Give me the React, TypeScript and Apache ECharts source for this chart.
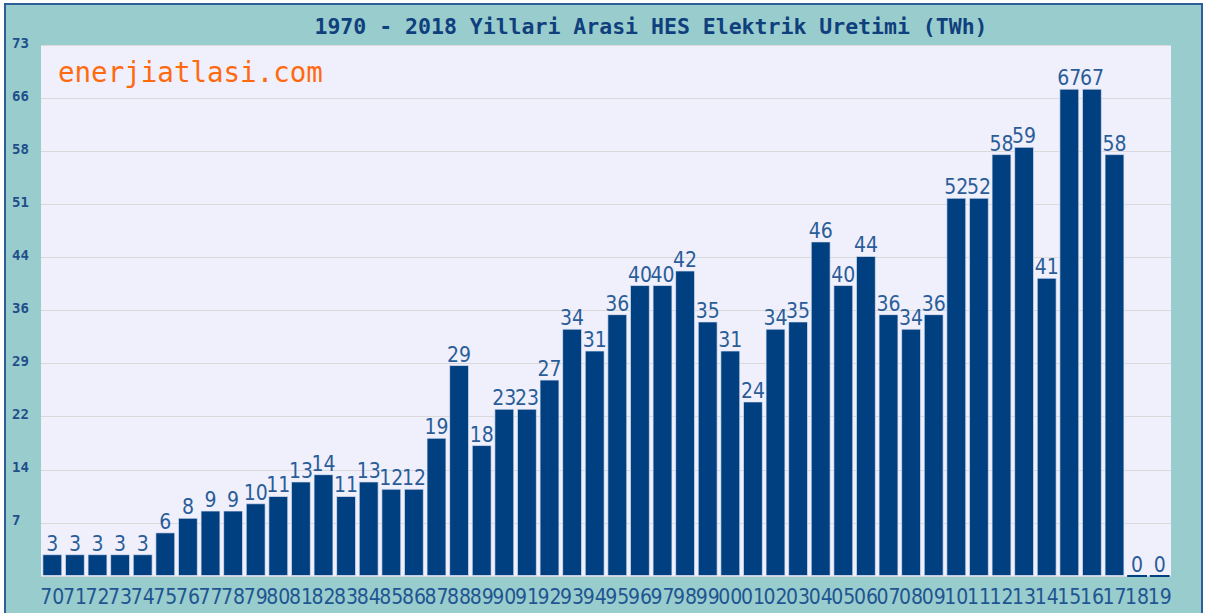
import React, { useEffect, useRef } from "react";
import * as echarts from "echarts";

const titleText = "1970 - 2018 Yillari Arasi HES Elektrik Uretimi (TWh)";
const watermark = "enerjiatlasi.com";
const years = [
  "70","71","72","73","74","75","76","77","78","79",
  "80","81","82","83","84","85","86","87","88","89",
  "90","91","92","93","94","95","96","97","98","99",
  "00","01","02","03","04","05","06","07","08","09",
  "10","11","12","13","14","15","16","17","18","19",
];
const production = [
  3, 3, 3, 3, 3, 6, 8, 9, 9, 10,
  11, 13, 14, 11, 13, 12, 12, 19, 29, 18,
  23, 23, 27, 34, 31, 36, 40, 40, 42, 35,
  31, 24, 34, 35, 46, 40, 44, 36, 34, 36,
  52, 52, 58, 59, 41, 67, 67, 58, 0, 0,
];
const yTickLabels = ["", "7", "14", "22", "29", "36", "44", "51", "58", "66", "73"];
const yMax = 73;
const yStep = 7.3;

const narrow = '"Liberation Sans Narrow", "DejaVu Sans Condensed", "Roboto Condensed", sans-serif';
const mono = '"DejaVu Sans Mono", "Liberation Mono", monospace';

export default function App() {
  const ref = useRef<HTMLDivElement>(null);
  useEffect(() => {
    if (!ref.current) return;
    const chart = echarts.init(ref.current, undefined, { renderer: "svg" });
    chart.setOption({
      animation: false,
      backgroundColor: "transparent",
      title: {
        text: titleText,
        left: 646,
        top: 10,
        textAlign: "center",
        textStyle: { fontFamily: mono, fontWeight: "bold", fontSize: 21.5, color: "#0f3f7c" },
      },
      graphic: [
        {
          type: "text",
          left: 58,
          top: 58,
          z: 100,
          style: { text: watermark, fontFamily: mono, fontSize: 27.5, fill: "#ff6a10" },
        },
      ],
      grid: {
        left: 41,
        right: 35,
        top: 45,
        bottom: 37,
        show: true,
        backgroundColor: "#f0f0fc",
        borderWidth: 0,
      },
      xAxis: {
        type: "category",
        data: years,
        axisLine: { show: false },
        axisTick: { show: false },
        axisLabel: {
          interval: 0,
          margin: 10,
          fontFamily: narrow,
          fontSize: 21,
          color: "#1f5592",
        },
      },
      yAxis: {
        type: "value",
        min: 0,
        max: yMax,
        interval: yStep,
        axisLine: { show: false },
        axisTick: { show: false },
        splitLine: { lineStyle: { color: "#d9d9dc", width: 1 } },
        axisLabel: {
          align: "left",
          margin: 29,
          verticalAlign: "bottom",
          lineHeight: 5,
          fontFamily: mono,
          fontWeight: "bold",
          fontSize: 14,
          color: "#1f4e8a",
          formatter: (v: number) => yTickLabels[Math.round(v / yStep)] ?? "",
        },
      },
      series: [
        {
          type: "bar",
          data: production.map((v) =>
            v === 0
              ? { value: v, itemStyle: { borderColor: "#003f80", borderWidth: 2 } }
              : v
          ),
          barCategoryGap: "12%",
          itemStyle: { color: "#003f80", borderColor: "rgba(225,230,245,0.7)", borderWidth: 1 },
          label: {
            show: true,
            position: "top",
            distance: 0,
            fontFamily: narrow,
            fontSize: 21,
            color: "#2a5d98",
          },
        },
      ],
    });
    return () => chart.dispose();
  }, []);
  return (
    <div style={{ position: "absolute", left: 0, top: 0, width: 1206, height: 613, background: "#ffffff", overflow: "hidden" }}>
      <div
        style={{
          position: "absolute",
          left: 4,
          top: 3,
          width: 1199,
          height: 612,
          boxSizing: "border-box",
          borderLeft: "2px solid #2f5f99",
          borderTop: "2px solid #2f5f99",
          borderRight: "2px solid #2f5f99",
          background: "#99cccc",
        }}
      />
      <div ref={ref} style={{ position: "absolute", left: 0, top: 0, width: 1206, height: 613 }} />
    </div>
  );
}
